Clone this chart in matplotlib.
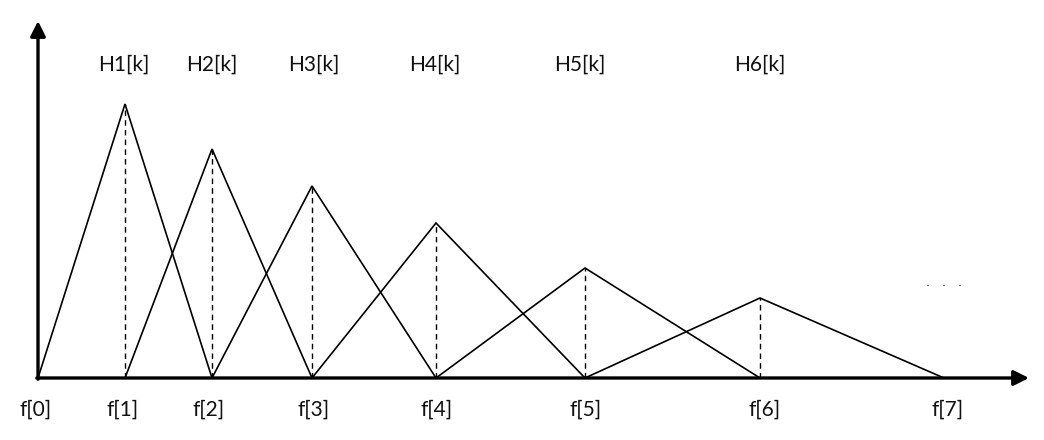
import matplotlib
matplotlib.use("Agg")
import matplotlib.pyplot as plt

# filter edge frequencies (horizontal positions) and peak heights
f_pos = [0, 87, 174, 274, 398, 547, 722, 906]
f_labels = ["f[0]", "f[1]", "f[2]", "f[3]", "f[4]", "f[5]", "f[6]", "f[7]"]
peaks = [274, 229, 192, 155, 110, 80]
h_labels = ["H1[k]", "H2[k]", "H3[k]", "H4[k]", "H5[k]", "H6[k]"]
h_label_x = [86, 174, 276, 397, 542, 722]
f_label_x = [-2, 85, 171, 276, 399, 548, 727, 910]

fig = plt.figure(figsize=(10.44, 4.4), dpi=100)
ax = fig.add_axes([0, 0, 1, 1])
ax.set_xlim(-38, 1006)
ax.set_ylim(-62, 378)
ax.axis("off")

font = dict(family="Lato", fontsize=15, color="#111111")

# axes arrows
ax.annotate("", xy=(0, 357), xytext=(0, -1.2),
            arrowprops=dict(arrowstyle="-|>,head_length=0.9,head_width=0.45",
                            lw=2.4, color="black", shrinkA=0, shrinkB=0))
ax.annotate("", xy=(991, 0), xytext=(-1.2, 0),
            arrowprops=dict(arrowstyle="-|>,head_length=0.9,head_width=0.45",
                            lw=2.4, color="black", shrinkA=0, shrinkB=0))

# triangular filters
for i, h in enumerate(peaks):
    xs = [f_pos[i], f_pos[i + 1], f_pos[i + 2]]
    ys = [0, h, 0]
    ax.plot(xs, ys, color="black", lw=1.2, solid_joinstyle="miter")
    ax.plot([f_pos[i + 1], f_pos[i + 1]], [0, h], color="black", lw=1.0,
            ls=(0, (4, 3)))
    ax.text(h_label_x[i], 313, h_labels[i], ha="center", va="center", **font)

for x, lab in zip(f_label_x, f_labels):
    ax.text(x, -32, lab, ha="center", va="center", **font)

ax.text(906, 92, "·   ·   ·", ha="center", va="center", family="DejaVu Sans",
        fontsize=9, color="#111111")

fig.savefig("out.png", dpi=100)
